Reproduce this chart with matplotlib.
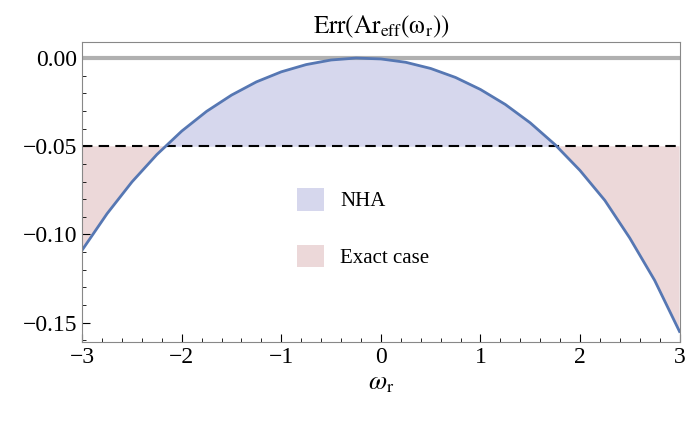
import matplotlib
matplotlib.use("Agg")
import matplotlib.pyplot as plt
import numpy as np
from matplotlib.ticker import MultipleLocator

plt.rcParams['font.family'] = ['Liberation Serif', 'DejaVu Serif']
plt.rcParams['mathtext.fontset'] = 'stix'

# values
omega = [-3, -2.75, -2.5, -2.25, -2, -1.75, -1.5, -1.25, -1, -0.75, -0.5, -0.25,
         0, 0.25, 0.5, 0.75, 1, 1.25, 1.5, 1.75, 2, 2.25, 2.5, 2.75, 3]
err = [-0.1088, -0.0882, -0.0702, -0.0547, -0.0414, -0.0302, -0.0210, -0.0135,
       -0.0078, -0.0037, -0.0011, -0.0000, -0.0005, -0.0024, -0.0059, -0.0110,
       -0.0178, -0.0263, -0.0367, -0.0491, -0.0637, -0.0807, -0.1020, -0.1260, -0.1550]
threshold = -0.05
xticks = [-3, -2, -1, 0, 1, 2, 3]
yticks = [0, -0.05, -0.10, -0.15]

x = np.array(omega)
y = np.array(err)

fig = plt.figure(figsize=(6.85, 4.26), dpi=100)
ax = fig.add_axes([0.12, 0.197, 0.872, 0.704])

ax.fill_between(x, y, threshold, where=y >= threshold, interpolate=True,
                color='#d6d7ed', lw=0, label='NHA')
ax.fill_between(x, y, threshold, where=y <= threshold, interpolate=True,
                color='#ecd8d9', lw=0, label='Exact case')
ax.axhline(0, color='#b0b0b0', lw=3)
ax.axhline(threshold, color='black', lw=1.5, ls=(0, (5, 3)))
ax.plot(x, y, color='#5677b3', lw=2)

ax.set_xlim(-3, 3)
ax.set_ylim(-0.161, 0.009)
ax.set_xticks(xticks)
ax.set_xticklabels([str(t).replace('-', '\u2212') for t in xticks])
ax.set_yticks(yticks)
ax.set_yticklabels([f'{t:.2f}'.replace('-', '\u2212') for t in yticks])
ax.xaxis.set_minor_locator(MultipleLocator(0.2))
ax.yaxis.set_minor_locator(MultipleLocator(0.01))
ax.tick_params(which='both', direction='in', labelsize=17, colors='black')
ax.tick_params(which='major', length=6)
ax.tick_params(which='minor', length=3)
for s in ax.spines.values():
    s.set_color('#888888')

ax.set_xlabel(r'$\omega_{\rm r}$', fontsize=19)
ax.set_title(r'$\rm Err(Ar_{eff}(\omega_r))$', fontsize=18)
ax.legend(loc='center', bbox_to_anchor=(0.47, 0.38), frameon=False, fontsize=15,
          labelspacing=1.6, handlelength=1.3, handleheight=1.3)

fig.savefig('out.png')
